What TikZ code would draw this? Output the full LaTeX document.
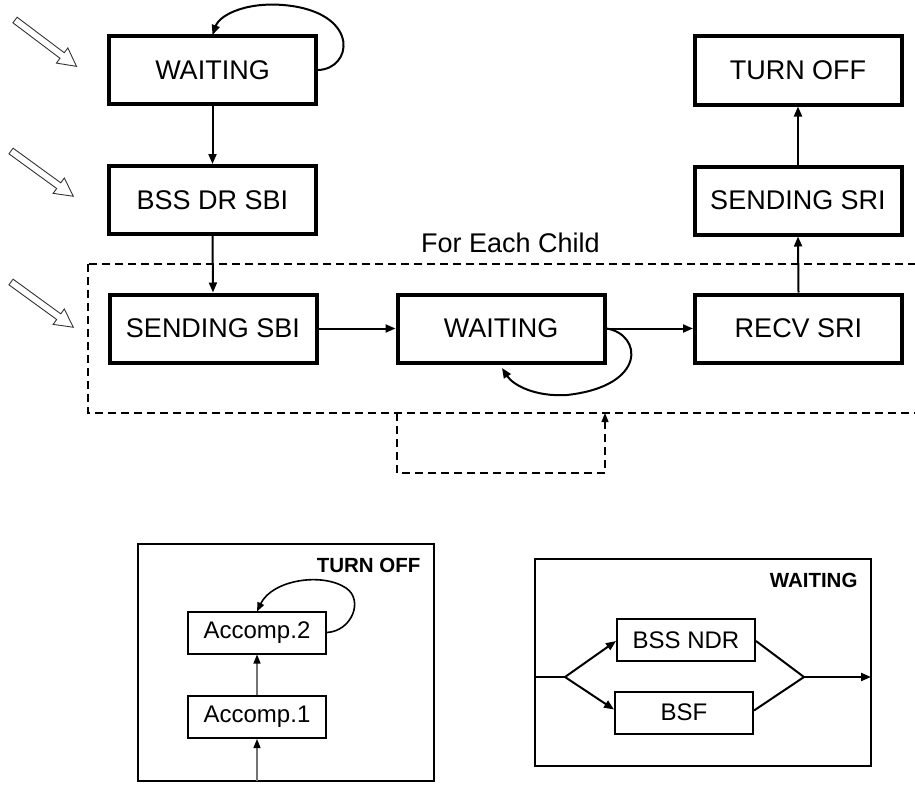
\documentclass[tikz,border=0pt]{standalone}
\usepackage{fontspec}
\setmainfont{Liberation Sans}
\usetikzlibrary{arrows.meta}

\tikzset{
  x=1pt, y=-1pt,
  bigfont/.style={font=\fontsize{27}{31}\selectfont},
  midfont/.style={font=\fontsize{24}{28}\selectfont},
  tagfont/.style={font=\fontsize{20.5}{24}\selectfont\bfseries},
  statebox/.style={draw, line width=4pt, minimum width=207pt, minimum height=68pt,
    inner sep=0pt, bigfont},
  subbox/.style={draw, line width=2pt, minimum width=138pt, minimum height=42pt,
    inner sep=0pt, midfont},
  frame/.style={draw, line width=2pt},
  tip/.style={-{Triangle[length=10pt,width=8pt]}},
  flow/.style={line width=2pt, tip},
  thinflow/.style={line width=1.4pt, draw=black!55,
    -{Triangle[length=9pt,width=7pt,color=black]}},
  dashline/.style={line width=1.3pt, dash pattern=on 8pt off 5pt},
  hollow/.style={draw=black!80, line width=0.9pt, fill=white, line join=miter},
}

% outlined entry arrow, drawn along the local x axis
\newcommand{\entryarrow}[2]{%
  \begin{scope}[shift={#1}, rotate=#2]
    \draw[hollow] (0,-3.5) -- (59,-3.5) -- (59,-9.5) -- (77,0)
      -- (59,9.5) -- (59,3.5) -- (0,3.5) -- cycle;
  \end{scope}}

\begin{document}
\begin{tikzpicture}
\useasboundingbox (0,0) rectangle (915,784);

% ---- main flow ----
\node[statebox] (w1)   at (212.5,70)  {WAITING};
\node[statebox] (bss)  at (212.5,200) {BSS DR SBI};
\node[statebox] (ssbi) at (213,328.5) {SENDING SBI};
\node[statebox] (w2)   at (501,328.5) {WAITING};
\node[statebox] (recv) at (798.5,328.5) {RECV SRI};
\node[statebox] (ssri) at (798,200.5) {SENDING SRI};
\node[statebox] (off)  at (798,70.5)  {TURN OFF};

% per-child region
\coordinate (rtl) at (88,264);
\coordinate (rbr) at (925,413);
\draw[dashline] (rtl) rectangle (rbr);
\node[bigfont, anchor=base] (each) at (510.5,252) {For Each Child};

% repeat loop below the region
\coordinate (fbA) at (397,413);
\coordinate (fbB) at (397,473);
\coordinate (fbC) at (605,473);
\coordinate (fbD) at (605,413);
\draw[dashline, -{Triangle[length=9pt,width=7pt]}] (fbA) -- (fbB) -- (fbC) -- (fbD);

% transitions
\draw[flow] (w1.south) -- (bss.north);
\draw[flow] (bss.south) -- (ssbi.north);
\draw[flow] (ssbi.east) -- (w2.west);
\draw[flow] (w2.east) -- (recv.west);
\draw[flow] (recv.north) -- (ssri.south);
\draw[flow] (ssri.north) -- (off.south);

% self loops
\draw[flow] (w1.east) .. controls (352,69) and (360,16) .. (292,6)
  .. controls (250,0) and (220,14) .. ([yshift=-1pt]w1.north);
\draw[flow] (w2.east) .. controls (642,334) and (648,386) .. (567,395)
  .. controls (535,397) and (513,385) .. (502,368);

% entry arrows
\entryarrow{(15,20)}{-37}
\entryarrow{(11,151)}{-36}
\entryarrow{(11,282)}{-36}

% ---- TURN OFF detail ----
\coordinate (tf1) at (138,544);
\coordinate (tf2) at (434,781);
\draw[frame] (tf1) rectangle (tf2);
\node[tagfont, anchor=east] (tftag) at (424,565) {TURN OFF};
\node[subbox] (acc2) at (257,632.5) {Accomp.2};
\node[subbox] (acc1) at (257,717)   {Accomp.1};
\coordinate (accin) at (257,781);
\draw[thinflow] (accin) -- (acc1.south);
\draw[thinflow] (acc1.north) -- (acc2.south);
\draw[flow, line width=1.6pt, -{Triangle[length=9pt,width=7pt]}]
  (acc2.east) .. controls (352,631) and (364,600) .. (346,588)
  .. controls (322,572) and (272,580) .. ([yshift=-1pt]acc2.north);

% ---- WAITING detail ----
\coordinate (wd1) at (535,559);
\coordinate (wd2) at (871,766);
\draw[frame] (wd1) rectangle (wd2);
\node[tagfont, anchor=east] (wdtag) at (861,580) {WAITING};
\node[subbox] (ndr) at (686,640) {BSS NDR};
\node[subbox] (bsf) at (684,712.5) {BSF};
\coordinate (win)   at (535,677);
\coordinate (fork)  at (565,677);
\coordinate (join)  at (804,677);
\coordinate (wout)  at (871,677);
\draw[line width=2pt] (win) -- (fork);
\draw[flow] (fork) -- ([yshift=-1pt]ndr.west);
\draw[flow] (fork) -- ([yshift=3pt]bsf.west);
\draw[line width=2pt] ([yshift=-1pt]ndr.east) -- (join) -- ([yshift=2pt]bsf.east);
\draw[flow] (join) -- (wout);
\end{tikzpicture}
\end{document}
